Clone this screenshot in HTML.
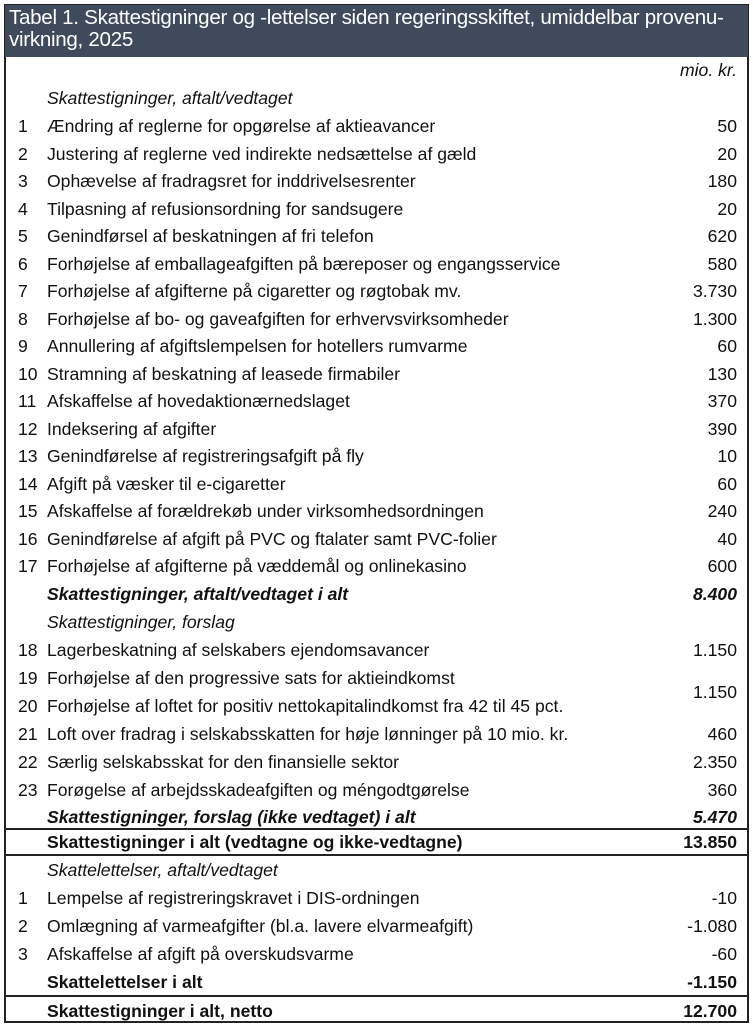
<!DOCTYPE html>
<html><head><meta charset="utf-8"><style>
*{margin:0;padding:0;box-sizing:border-box}
body{width:753px;height:1024px;background:#fff;position:relative;overflow:hidden;font-family:"Liberation Sans",sans-serif;color:#111}
#frame{position:absolute;left:4px;top:4px;width:745px;height:1019px;border:2px solid #222}
#hdr{position:absolute;left:5px;top:5px;width:743px;height:52px;background:#3f4a5c;color:#fff;font-size:20.6px;line-height:22px;padding:2px 0 0 4px;letter-spacing:-0.3px;white-space:nowrap}
.r{position:absolute;left:0;width:753px;height:28px;font-size:17.6px;line-height:28px}
.n{position:absolute;left:18px}
.t{position:absolute;left:47px;white-space:nowrap}
.v{position:absolute;right:16px}
.i{font-style:italic}
.b{font-weight:bold}
.hl{position:absolute;left:5px;width:743px;height:2px;background:#222}
</style></head><body>
<div id="frame"></div>
<div id="hdr">Tabel 1. Skattestigninger og -lettelser siden regeringsskiftet, umiddelbar provenu-<br>virkning, 2025</div>
<div class="r i" style="top:56px"><span class="v">mio. kr.</span></div>
<div class="r i" style="top:84px"><span class="t">Skattestigninger, aftalt/vedtaget</span></div>
<div class="r" style="top:112px"><span class="n">1</span><span class="t">Ændring af reglerne for opgørelse af aktieavancer</span><span class="v">50</span></div>
<div class="r" style="top:139.5px"><span class="n">2</span><span class="t">Justering af reglerne ved indirekte nedsættelse af gæld</span><span class="v">20</span></div>
<div class="r" style="top:167px"><span class="n">3</span><span class="t">Ophævelse af fradragsret for inddrivelsesrenter</span><span class="v">180</span></div>
<div class="r" style="top:194.5px"><span class="n">4</span><span class="t">Tilpasning af refusionsordning for sandsugere</span><span class="v">20</span></div>
<div class="r" style="top:222px"><span class="n">5</span><span class="t">Genindførsel af beskatningen af fri telefon</span><span class="v">620</span></div>
<div class="r" style="top:249.5px"><span class="n">6</span><span class="t">Forhøjelse af emballageafgiften på bæreposer og engangsservice</span><span class="v">580</span></div>
<div class="r" style="top:277px"><span class="n">7</span><span class="t">Forhøjelse af afgifterne på cigaretter og røgtobak mv.</span><span class="v">3.730</span></div>
<div class="r" style="top:304.5px"><span class="n">8</span><span class="t">Forhøjelse af bo- og gaveafgiften for erhvervsvirksomheder</span><span class="v">1.300</span></div>
<div class="r" style="top:332px"><span class="n">9</span><span class="t">Annullering af afgiftslempelsen for hotellers rumvarme</span><span class="v">60</span></div>
<div class="r" style="top:359.5px"><span class="n">10</span><span class="t">Stramning af beskatning af leasede firmabiler</span><span class="v">130</span></div>
<div class="r" style="top:387px"><span class="n">11</span><span class="t">Afskaffelse af hovedaktionærnedslaget</span><span class="v">370</span></div>
<div class="r" style="top:414.5px"><span class="n">12</span><span class="t">Indeksering af afgifter</span><span class="v">390</span></div>
<div class="r" style="top:442px"><span class="n">13</span><span class="t">Genindførelse af registreringsafgift på fly</span><span class="v">10</span></div>
<div class="r" style="top:469.5px"><span class="n">14</span><span class="t">Afgift på væsker til e-cigaretter</span><span class="v">60</span></div>
<div class="r" style="top:497px"><span class="n">15</span><span class="t">Afskaffelse af forældrekøb under virksomhedsordningen</span><span class="v">240</span></div>
<div class="r" style="top:524.5px"><span class="n">16</span><span class="t">Genindførelse af afgift på PVC og ftalater samt PVC-folier</span><span class="v">40</span></div>
<div class="r" style="top:552px"><span class="n">17</span><span class="t">Forhøjelse af afgifterne på væddemål og onlinekasino</span><span class="v">600</span></div>
<div class="r i b" style="top:580px"><span class="t">Skattestigninger, aftalt/vedtaget i alt</span><span class="v">8.400</span></div>
<div class="r i" style="top:608px"><span class="t">Skattestigninger, forslag</span></div>
<div class="r" style="top:636px"><span class="n">18</span><span class="t">Lagerbeskatning af selskabers ejendomsavancer</span><span class="v">1.150</span></div>
<div class="r" style="top:664px"><span class="n">19</span><span class="t">Forhøjelse af den progressive sats for aktieindkomst</span></div>
<div class="r" style="top:678px"><span class="v">1.150</span></div>
<div class="r" style="top:692px"><span class="n">20</span><span class="t">Forhøjelse af loftet for positiv nettokapitalindkomst fra 42 til 45 pct.</span></div>
<div class="r" style="top:720px"><span class="n">21</span><span class="t">Loft over fradrag i selskabsskatten for høje lønninger på 10 mio. kr.</span><span class="v">460</span></div>
<div class="r" style="top:748px"><span class="n">22</span><span class="t">Særlig selskabsskat for den finansielle sektor</span><span class="v">2.350</span></div>
<div class="r" style="top:776px"><span class="n">23</span><span class="t">Forøgelse af arbejdsskadeafgiften og méngodtgørelse</span><span class="v">360</span></div>
<div class="r i b" style="top:803px"><span class="t">Skattestigninger, forslag (ikke vedtaget) i alt</span><span class="v">5.470</span></div>
<div class="hl" style="top:828px"></div>
<div class="r b" style="top:828px"><span class="t">Skattestigninger i alt (vedtagne og ikke-vedtagne)</span><span class="v">13.850</span></div>
<div class="hl" style="top:854px"></div>
<div class="r i" style="top:856px"><span class="t">Skattelettelser, aftalt/vedtaget</span></div>
<div class="r" style="top:884px"><span class="n">1</span><span class="t">Lempelse af registreringskravet i DIS-ordningen</span><span class="v">-10</span></div>
<div class="r" style="top:912px"><span class="n">2</span><span class="t">Omlægning af varmeafgifter (bl.a. lavere elvarmeafgift)</span><span class="v">-1.080</span></div>
<div class="r" style="top:940px"><span class="n">3</span><span class="t">Afskaffelse af afgift på overskudsvarme</span><span class="v">-60</span></div>
<div class="r b" style="top:968px"><span class="t">Skattelettelser i alt</span><span class="v">-1.150</span></div>
<div class="hl" style="top:995px"></div>
<div class="r b" style="top:997px"><span class="t">Skattestigninger i alt, netto</span><span class="v">12.700</span></div>
</body></html>
